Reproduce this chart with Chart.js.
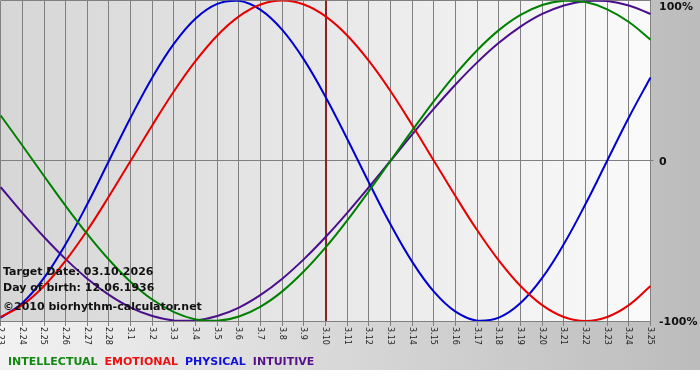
<!DOCTYPE html>
<html><head><meta charset="utf-8">
<script src="https://cdn.jsdelivr.net/npm/chart.js@4"></script>
<style>html,body{margin:0;padding:0;background:#fff;}canvas{display:block;}</style>
</head><body>
<canvas id="c" width="700" height="380"></canvas>
<script>
const days = ['2.23','2.24','2.25','2.26','2.27','2.28','3.1','3.2','3.3','3.4','3.5','3.6','3.7','3.8','3.9','3.10','3.11','3.12','3.13','3.14','3.15','3.16','3.17','3.18','3.19','3.20','3.21','3.22','3.23','3.24','3.25'];
const intellectual = [28.2, 9.5, -9.5, -28.2, -45.8, -61.8, -75.6, -86.6, -94.5, -99.0, -99.9, -97.2, -91.0, -81.5, -69.0, -54.1, -37.2, -18.9, 0, 18.9, 37.2, 54.1, 69.0, 81.5, 91.0, 97.2, 99.9, 99.0, 94.5, 86.6, 75.6];
const emotional = [-97.5, -90.1, -78.2, -62.3, -43.4, -22.2, 0, 22.2, 43.4, 62.3, 78.2, 90.1, 97.5, 100, 97.5, 90.1, 78.2, 62.3, 43.4, 22.2, 0, -22.2, -43.4, -62.3, -78.2, -90.1, -97.5, -100, -97.5, -90.1, -78.2];
const physical = [-97.9, -88.8, -73.1, -52.0, -27.0, 0, 27.0, 52.0, 73.1, 88.8, 97.9, 99.8, 94.2, 81.7, 63.1, 39.8, 13.6, -13.6, -39.8, -63.1, -81.7, -94.2, -99.8, -97.9, -88.8, -73.1, -52.0, -27.0, 0, 27.0, 52.0];
const intuitive = [-16.5, -32.5, -47.6, -61.4, -73.6, -83.7, -91.6, -96.9, -99.7, -99.7, -96.9, -91.6, -83.7, -73.6, -61.4, -47.6, -32.5, -16.5, 0, 16.5, 32.5, 47.6, 61.4, 73.6, 83.7, 91.6, 96.9, 99.7, 99.7, 96.9, 91.6];
const yTickValues = [100, 0, -100];
const yTickLabels = ['100%', '0', '-100%'];
const targetDay = '3.10';
const infoLines = ['Target Date: 03.10.2026', 'Day of birth: 12.06.1936', '\u00A92010 biorhythm-calculator.net'];

const GRID = '#808080';
const FONT = '"DejaVu Sans", Verdana, sans-serif';

const deco = {
  id: 'deco',
  beforeDraw(chart) {
    const {ctx, chartArea: a, width, height} = chart;
    ctx.save();
    ctx.fillStyle = '#ffffff';
    ctx.fillRect(0, 0, width, height);
    let g = ctx.createLinearGradient(0, 0, width, 0);
    g.addColorStop(0, '#f2f2f2');
    g.addColorStop(1, '#bcbcbc');
    ctx.fillStyle = g;
    ctx.fillRect(0, 0, width, 370);
    g = ctx.createLinearGradient(a.left, 0, a.right, 0);
    g.addColorStop(0, '#d6d6d6');
    g.addColorStop(1, '#fafafa');
    ctx.fillStyle = g;
    ctx.fillRect(a.left, a.top, a.right - a.left, a.bottom - a.top);
    ctx.restore();
  },
  beforeDatasetsDraw(chart) {
    const {ctx, chartArea: a, scales} = chart;
    ctx.save();
    ctx.strokeStyle = GRID;
    ctx.lineWidth = 1;
    ctx.beginPath();
    ctx.moveTo(a.left, 0.5);
    ctx.lineTo(a.right, 0.5);
    ctx.stroke();
    const x = Math.round(scales.x.getPixelForValue(days.indexOf(targetDay)));
    ctx.strokeStyle = '#8a2424';
    ctx.lineWidth = 2;
    ctx.beginPath();
    ctx.moveTo(x, a.top);
    ctx.lineTo(x, a.bottom);
    ctx.stroke();
    ctx.restore();
  },
  afterDraw(chart) {
    const {ctx, chartArea: a, scales} = chart;
    const xs = scales.x, ys = scales.y;
    ctx.save();
    // x tick labels, rotated clockwise
    ctx.fillStyle = '#222';
    ctx.font = '8px ' + FONT;
    ctx.textAlign = 'left';
    ctx.textBaseline = 'middle';
    xs.ticks.forEach((t, i) => {
      const x = xs.getPixelForTick(i);
      ctx.save();
      ctx.translate(x, a.bottom + 6);
      ctx.rotate(Math.PI / 2);
      ctx.fillText(days[i], 0, 0.5);
      ctx.restore();
    });
    // y labels on right
    ctx.fillStyle = '#111';
    ctx.font = 'bold 11px ' + FONT;
    yTickValues.forEach((v, i) => {
      let y = ys.getPixelForValue(v);
      if (v === 100) y += 7;
      if (v === 0) y += 1.5;
      if (v === -100) y += 1;
      ctx.fillText(yTickLabels[i], a.right + 8.5, y);
    });
    // info text
    ctx.font = 'bold 11px ' + FONT;
    const ly = [272, 288, 307];
    infoLines.forEach((s, i) => ctx.fillText(s, 3, ly[i]));
    // legend
    ctx.font = 'bold 11px ' + FONT;
    let lx = 8;
    chart.data.datasets.forEach(ds => {
      ctx.fillStyle = ds.legendColor;
      ctx.fillText(ds.label, lx, 362);
      lx += ctx.measureText(ds.label).width + 7;
    });
    ctx.restore();
  }
};

new Chart(document.getElementById('c'), {
  type: 'line',
  data: {
    labels: days,
    datasets: [
      {label: 'INTELLECTUAL', data: intellectual, borderColor: '#008000', legendColor: '#118811'},
      {label: 'EMOTIONAL', data: emotional, borderColor: '#e80000', legendColor: '#ee1111'},
      {label: 'PHYSICAL', data: physical, borderColor: '#0000d0', legendColor: '#1111dd'},
      {label: 'INTUITIVE', data: intuitive, borderColor: '#4b0f8c', legendColor: '#551188'}
    ].map(d => Object.assign(d, {borderWidth: 2, pointRadius: 0, tension: 0.4, fill: false}))
  },
  options: {
    responsive: false,
    animation: false,
    layout: {padding: {left: 0.7, right: 46.5, top: 0.5, bottom: 54}},
    plugins: {legend: {display: false}, tooltip: {enabled: false}},
    scales: {
      x: {
        offset: false,
        ticks: {display: false, autoSkip: false},
        grid: {color: GRID, lineWidth: 1, drawTicks: true, tickLength: 5},
        border: {display: true, color: GRID}
      },
      y: {
        position: 'right',
        min: -100, max: 100,
        ticks: {display: false, stepSize: 100},
        grid: {drawTicks: true, tickLength: 3, color: c => (c.tick && c.tick.value === 0) ? GRID : 'rgba(0,0,0,0)'},
        border: {display: true, color: GRID}
      }
    }
  },
  plugins: [deco]
});
</script>
</body></html>
